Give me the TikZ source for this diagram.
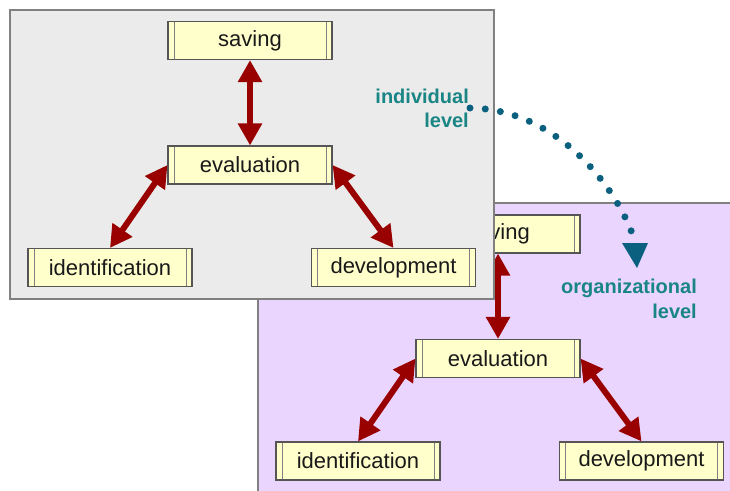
\documentclass[tikz,border=0pt]{standalone}
\usepackage{fontspec}
\setmainfont{Liberation Sans}
\usetikzlibrary{arrows.meta}
\definecolor{boxfill}{HTML}{FFFFCC}
\definecolor{boxline}{HTML}{555555}
\definecolor{grayfill}{HTML}{EBEBEB}
\definecolor{purplefill}{HTML}{EAD5FF}
\definecolor{frameline}{HTML}{808080}
\definecolor{arrowred}{HTML}{990000}
\definecolor{tealtext}{HTML}{198585}
\definecolor{dotblue}{HTML}{0B6080}
\tikzset{
  x=1pt, y=-1pt,
  stepbox/.style={draw=boxline, line width=1.1pt, fill=boxfill, rectangle,
    minimum width=164pt, minimum height=38pt, inner sep=0pt,
    font=\fontsize{22}{24}\selectfont, text=black!90,
    path picture={
      \draw[gray, line width=0.9pt]
        ([xshift=6pt]path picture bounding box.north west) -- ([xshift=6pt]path picture bounding box.south west)
        ([xshift=-6pt]path picture bounding box.north east) -- ([xshift=-6pt]path picture bounding box.south east);
    }},
  dbl/.style={draw=arrowred, line width=6pt,
    {Triangle[width=23pt,length=22pt]}-{Triangle[width=23pt,length=22pt]}},
  lvl/.style={font=\fontsize{20}{24}\bfseries\selectfont, text=tealtext, inner sep=0pt, anchor=base east},
  frame/.style={draw=frameline, line width=1.3pt}
}
\begin{document}
\begin{tikzpicture}
\useasboundingbox (0,0) rectangle (730,490);
% purple panel (organizational level)
\path[frame, fill=purplefill] (258,520) -- (258,203) -- (760,203) -- (760,520) -- cycle;
\node[stepbox] (s2) at (498,234) {saving};
\node[stepbox] (e2) at (498,358.5) {evaluation};
\node[stepbox] (i2) at (358,461) {identification};
\node[stepbox] (d2) at (641.5,461) {development};
\draw[dbl] (s2.south) -- (e2.north);
\draw[dbl] (e2.west) -- (i2.north);
\draw[dbl] (e2.east) -- (d2.north);
% gray panel (individual level)
\path[frame, fill=grayfill] (10,10) rectangle (494,299);
\node[stepbox] (s1) at (250,40.5) {saving};
\node[stepbox] (e1) at (250,165) {evaluation};
\node[stepbox] (i1) at (110,267.5) {identification};
\node[stepbox] (d1) at (393.5,267.5) {development};
\draw[dbl] (s1.south) -- (e1.north);
\draw[dbl] (e1.west) -- (i1.north);
\draw[dbl] (e1.east) -- (d1.north);
% level labels
\node[lvl] (ind1) at (469,103) {individual};
\node[lvl] (ind2) at (469,127) {level};
\node[lvl] (org1) at (697,293) {organizational};
\node[lvl] (org2) at (697,318) {level};
% dotted transition arrow
\coordinate (cs) at (470,108);
\coordinate (ce) at (632,233);
\draw[dotblue, line width=7pt, line cap=round, dash pattern=on 0pt off 15.3pt]
  (cs) .. controls (556,109) and (614,185) .. (ce);
\coordinate (tipL) at (622,243);
\coordinate (tipR) at (648,243);
\coordinate (tip) at (637,268);
\fill[dotblue] (tipL) -- (tipR) -- (tip) -- cycle;
\end{tikzpicture}
\end{document}
